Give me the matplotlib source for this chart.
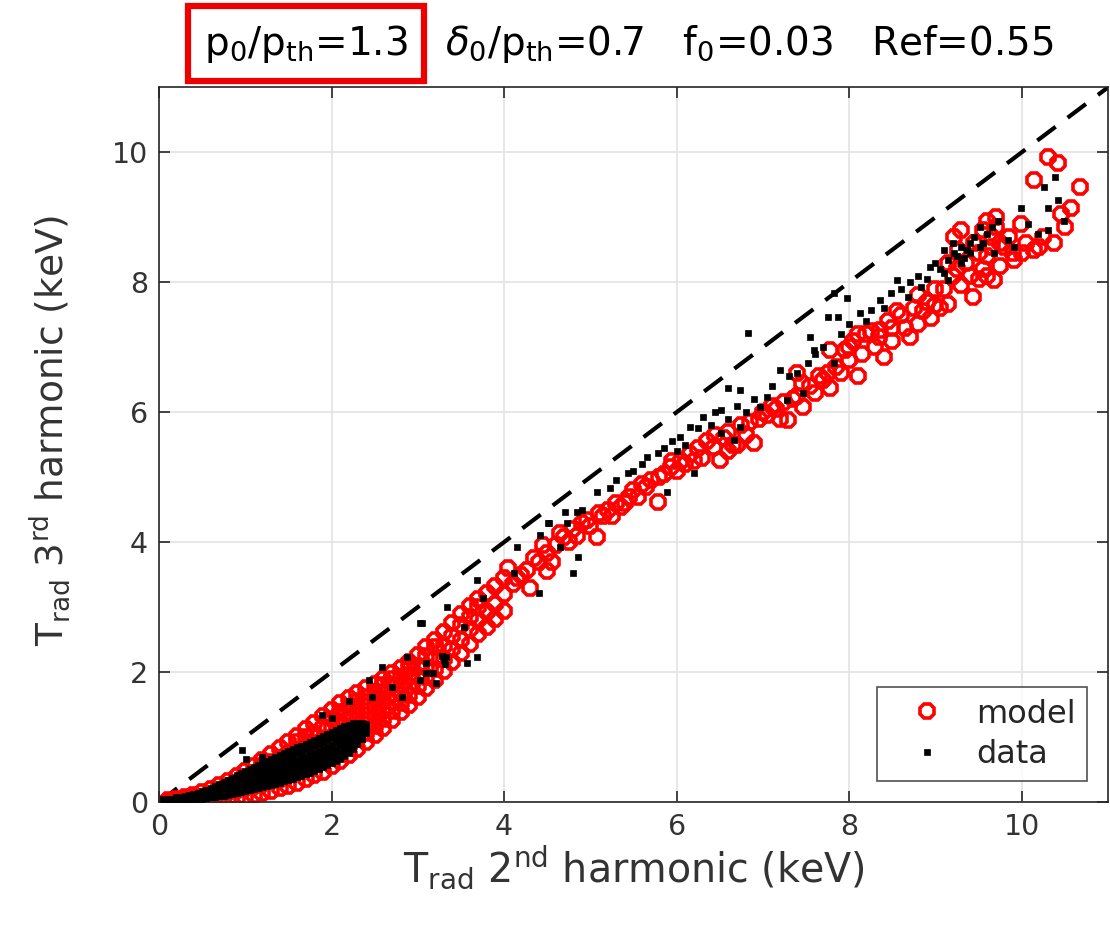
import matplotlib
matplotlib.use("Agg")
import matplotlib.pyplot as plt

# ---------------- data ----------------
# model: low dense region, columns of x with several y values
model_low_x = [0.10, 0.20, 0.30, 0.40, 0.50, 0.60, 0.70, 0.80, 0.90, 1.00, 1.10, 1.20, 1.30, 1.40,
               1.50, 1.60, 1.70, 1.80, 1.90, 2.00, 2.10, 2.20, 2.30, 2.40, 2.50, 2.60, 2.70, 2.80,
               2.90, 3.00, 3.10, 3.20, 3.30, 3.40, 3.50, 3.60, 3.70, 3.80, 3.90, 4.00]
model_low_y = [
    [0.00, 0.03], [0.00, 0.05], [0.00, 0.04, 0.08], [0.01, 0.06, 0.11], [0.01, 0.08, 0.15],
    [0.02, 0.10, 0.20], [0.03, 0.14, 0.26], [0.04, 0.15, 0.25, 0.33], [0.06, 0.18, 0.30, 0.40],
    [0.08, 0.21, 0.34, 0.48], [0.11, 0.25, 0.40, 0.56], [0.14, 0.28, 0.43, 0.55, 0.65],
    [0.17, 0.32, 0.47, 0.61, 0.74], [0.21, 0.36, 0.52, 0.68, 0.83], [0.25, 0.41, 0.58, 0.75, 0.93],
    [0.30, 0.46, 0.63, 0.80, 0.92, 1.02], [0.35, 0.51, 0.68, 0.86, 1.00, 1.12],
    [0.41, 0.57, 0.74, 0.90, 1.06, 1.22], [0.47, 0.63, 0.80, 0.97, 1.15, 1.32],
    [0.55, 0.70, 0.85, 1.00, 1.14, 1.28, 1.42], [0.63, 0.78, 0.93, 1.08, 1.23, 1.38, 1.52],
    [0.72, 0.87, 1.02, 1.16, 1.31, 1.46, 1.60], [0.82, 0.97, 1.12, 1.26, 1.40, 1.55, 1.68],
    [0.92, 1.06, 1.20, 1.34, 1.48, 1.62, 1.75], [1.03, 1.17, 1.31, 1.45, 1.58, 1.70, 1.82],
    [1.14, 1.28, 1.42, 1.55, 1.68, 1.80, 1.90], [1.26, 1.40, 1.54, 1.67, 1.80, 1.90, 1.98],
    [1.38, 1.52, 1.66, 1.80, 1.93, 2.06], [1.50, 1.64, 1.78, 1.92, 2.04, 2.16],
    [1.62, 1.78, 1.94, 2.10, 2.26], [1.75, 1.92, 2.08, 2.24, 2.38], [1.88, 2.05, 2.22, 2.38, 2.50],
    [2.02, 2.20, 2.40, 2.62], [2.16, 2.36, 2.56, 2.76], [2.30, 2.50, 2.72, 2.90],
    [2.44, 2.66, 2.85, 3.02], [2.58, 2.80, 3.00, 3.12], [2.70, 2.92, 3.22], [2.82, 3.05, 3.32],
    [2.94, 3.20, 3.45]]

# model: upper scattered points
model_hi_x = [4.05, 4.10, 4.15, 4.20, 4.27, 4.30, 4.35, 4.40, 4.45, 4.50, 4.50, 4.55, 4.60, 4.65,
              4.69, 4.75, 4.80, 4.85, 4.90, 4.96, 5.00, 5.08, 5.10, 5.15, 5.20, 5.25, 5.30, 5.35,
              5.40, 5.45, 5.50, 5.55, 5.60, 5.65, 5.70, 5.78, 5.80, 5.85, 5.93, 5.95, 6.00, 6.05,
              6.10, 6.15, 6.20, 6.25, 6.30, 6.35, 6.43, 6.45, 6.50, 6.55, 6.60, 6.60, 6.65, 6.70,
              6.75, 6.80, 6.85, 6.90, 6.95, 7.00, 7.05, 7.10, 7.15, 7.20, 7.25, 7.29, 7.35, 7.40,
              7.40, 7.45, 7.47, 7.55, 7.60, 7.65, 7.70, 7.75, 7.78, 7.78, 7.85, 7.90, 7.95, 8.00,
              8.00, 8.05, 8.10, 8.10, 8.15, 8.20, 8.25, 8.30, 8.35, 8.36, 8.40, 8.45, 8.50, 8.50,
              8.55, 8.60, 8.65, 8.71, 8.75, 8.80, 8.80, 8.85, 8.90, 8.95, 9.00, 9.00, 9.05, 9.10,
              9.14, 9.15, 9.20, 9.21, 9.25, 9.26, 9.30, 9.30, 9.35, 9.40, 9.44, 9.45, 9.50, 9.50,
              9.55, 9.55, 9.60, 9.60, 9.60, 9.65, 9.65, 9.68, 9.70, 9.70, 9.75, 9.75, 9.80, 9.85,
              9.90, 9.91, 9.99, 10.00, 10.05, 10.14, 10.14, 10.20, 10.25, 10.30, 10.42, 10.37,
              10.57, 10.68, 10.50, 10.45]
model_hi_y = [3.60, 3.35, 3.45, 3.50, 3.57, 3.30, 3.75, 3.70, 3.95, 3.83, 3.55, 3.70, 3.95, 4.14,
              4.08, 4.00, 4.20, 4.10, 4.30, 4.34, 4.25, 4.08, 4.45, 4.40, 4.50, 4.40, 4.60, 4.54,
              4.60, 4.70, 4.80, 4.70, 4.90, 4.85, 4.95, 4.62, 5.00, 5.05, 5.15, 5.25, 5.10, 5.25,
              5.20, 5.35, 5.25, 5.45, 5.30, 5.55, 5.46, 5.65, 5.26, 5.60, 5.40, 5.70, 5.50, 5.50,
              5.80, 5.65, 5.85, 5.52, 5.90, 6.00, 5.95, 6.10, 6.05, 5.90, 6.15, 5.88, 6.20, 6.60,
              6.25, 6.45, 6.08, 6.40, 6.30, 6.55, 6.50, 6.60, 6.38, 6.95, 6.70, 6.60, 6.95, 6.80,
              7.00, 7.10, 6.55, 7.20, 6.90, 7.20, 7.25, 7.00, 7.15, 7.26, 6.85, 7.40, 7.10, 7.30,
              7.55, 7.50, 7.30, 7.15, 7.60, 7.35, 7.80, 7.55, 7.70, 7.45, 7.90, 7.65, 7.60, 7.90,
              7.67, 8.30, 8.10, 8.69, 8.20, 8.50, 7.95, 8.80, 8.30, 8.10, 7.77, 8.60, 8.05, 8.45,
              8.80, 8.20, 8.95, 8.40, 8.10, 8.70, 8.55, 8.03, 8.85, 9.00, 8.25, 8.60, 8.55, 8.70,
              8.45, 8.34, 8.90, 8.45, 8.60, 9.57, 8.50, 8.55, 8.70, 9.92, 9.83, 8.60,
              9.15, 9.46, 8.85, 9.05]

# data: low dense band, columns
data_low_x = [0.10, 0.15, 0.20, 0.25, 0.30, 0.35, 0.40, 0.45, 0.50, 0.55, 0.60, 0.65, 0.70, 0.75,
              0.80, 0.85, 0.90, 0.95, 1.00, 1.05, 1.10, 1.15, 1.20, 1.25, 1.30, 1.35, 1.40, 1.45,
              1.50, 1.55, 1.60, 1.65, 1.70, 1.75, 1.80, 1.85, 1.90, 1.95, 2.00, 2.05, 2.10, 2.15,
              2.20, 2.25, 2.30, 2.35, 2.40]
data_low_y = [
    [0.00, 0.04], [0.01, 0.05], [0.01, 0.07], [0.02, 0.08], [0.02, 0.09], [0.03, 0.11],
    [0.03, 0.12], [0.04, 0.14], [0.05, 0.11, 0.17], [0.06, 0.12, 0.19], [0.07, 0.14, 0.22],
    [0.08, 0.16, 0.25], [0.09, 0.18, 0.28], [0.10, 0.20, 0.31], [0.11, 0.19, 0.27, 0.34],
    [0.13, 0.21, 0.29, 0.37], [0.14, 0.23, 0.32, 0.41], [0.16, 0.25, 0.35, 0.44],
    [0.17, 0.25, 0.33, 0.41, 0.48], [0.19, 0.27, 0.35, 0.43, 0.51], [0.20, 0.29, 0.38, 0.46, 0.54],
    [0.22, 0.31, 0.40, 0.49, 0.57], [0.23, 0.32, 0.41, 0.51, 0.60],
    [0.25, 0.33, 0.41, 0.49, 0.56, 0.63], [0.26, 0.34, 0.42, 0.50, 0.58, 0.66],
    [0.28, 0.36, 0.44, 0.53, 0.61, 0.69], [0.30, 0.38, 0.47, 0.55, 0.64, 0.72],
    [0.32, 0.40, 0.49, 0.58, 0.67, 0.75], [0.34, 0.43, 0.52, 0.61, 0.70, 0.78],
    [0.36, 0.45, 0.54, 0.63, 0.72, 0.81], [0.38, 0.47, 0.56, 0.65, 0.75, 0.84],
    [0.40, 0.49, 0.58, 0.68, 0.77, 0.87], [0.43, 0.52, 0.61, 0.70, 0.80, 0.90],
    [0.45, 0.54, 0.63, 0.73, 0.83, 0.93], [0.48, 0.57, 0.66, 0.76, 0.86, 0.96],
    [0.51, 0.60, 0.69, 0.79, 0.89, 0.99], [0.54, 0.63, 0.72, 0.82, 0.92, 1.02],
    [0.57, 0.66, 0.75, 0.85, 0.95, 1.05], [0.60, 0.69, 0.78, 0.88, 0.98, 1.08],
    [0.63, 0.72, 0.82, 0.92, 1.01, 1.11], [0.67, 0.76, 0.86, 0.95, 1.05, 1.14],
    [0.71, 0.80, 0.89, 0.98, 1.08, 1.17], [0.76, 0.85, 0.94, 1.02, 1.10, 1.19],
    [0.82, 0.91, 0.99, 1.07, 1.14, 1.21], [0.89, 0.98, 1.07, 1.15, 1.22],
    [0.97, 1.06, 1.14, 1.21], [1.06, 1.13, 1.20]]

# data: scattered points
data_hi_x = [0.05, 0.96, 1.01, 1.20, 1.89, 2.00, 2.20, 2.44, 2.47, 2.70, 2.82, 2.87, 3.02, 3.21,
             3.10, 3.33, 2.59, 3.03, 3.10, 3.05, 3.34, 3.69, 3.76, 3.53, 3.30, 3.28, 3.32, 3.18,
             3.57, 3.69, 4.11, 4.15, 4.40, 4.65, 4.73, 4.80, 4.86, 4.71, 4.85, 5.08, 4.51, 4.42,
             4.52, 4.90, 5.23, 5.44, 5.66, 5.78, 5.89, 6.20, 6.04, 6.16, 6.31, 6.51, 6.59, 6.74,
             6.51, 6.66, 6.74, 6.83, 6.97, 7.05, 7.20, 7.28, 7.47, 7.52, 7.55, 7.59, 7.75, 7.87,
             7.82, 7.82, 7.98, 8.13, 8.25, 8.36, 8.48, 8.56, 8.68, 8.83, 8.94, 9.10, 9.21, 9.33,
             9.37, 9.52, 9.72, 9.84, 9.91, 9.99, 10.07, 10.26, 10.30, 10.42, 10.49, 10.39, 10.30,
             10.19, 9.68, 9.52, 9.30, 9.14,
             5.30, 5.50, 5.60, 5.85, 5.95, 6.00, 6.10, 6.25, 6.40, 6.45, 6.60, 6.70, 6.80, 6.90,
             7.10, 7.30, 7.40, 7.60, 7.70, 7.90, 8.00, 8.20, 8.40, 8.60, 8.70, 8.80, 8.90, 9.00,
             9.05, 9.15, 9.25, 9.30, 9.40, 9.45, 9.55, 9.60, 9.65, 9.40, 9.20, 9.10]
data_hi_y = [0.05, 0.80, 0.67, 0.70, 1.34, 1.30, 1.55, 1.88, 1.62, 1.77, 1.62, 2.23, 1.88, 1.83,
             1.98, 2.23, 2.08, 2.75, 2.14, 2.75, 3.00, 3.42, 3.14, 2.70, 2.18, 2.25, 2.12, 1.98,
             2.14, 2.23, 3.52, 3.92, 3.22, 3.92, 4.29, 3.52, 3.77, 4.46, 4.46, 4.77, 4.29, 4.11,
             4.29, 4.49, 4.83, 5.06, 5.31, 5.37, 4.77, 5.06, 5.62, 5.77, 5.92, 6.03, 6.38, 6.34,
             5.68, 5.57, 5.77, 7.22, 6.08, 6.23, 6.65, 6.18, 6.29, 6.75, 7.15, 6.95, 7.46, 7.46,
             6.75, 7.83, 7.75, 7.52, 7.57, 7.72, 7.83, 8.03, 7.77, 7.92, 8.23, 8.14, 8.45, 8.38,
             8.49, 8.85, 8.95, 8.65, 8.54, 9.15, 8.90, 9.46, 9.15, 9.26, 8.95, 9.62, 8.80, 8.75,
             8.45, 8.54, 8.29, 8.03,
             4.95, 5.10, 5.20, 5.45, 5.55, 5.40, 5.50, 5.75, 5.80, 6.00, 5.90, 6.10, 6.00, 6.20,
             6.40, 6.55, 6.60, 6.90, 7.00, 7.20, 7.35, 7.40, 7.60, 7.90, 8.00, 8.10, 8.05, 8.30,
             8.20, 8.35, 8.40, 8.55, 8.60, 8.70, 8.60, 8.75, 8.85, 8.45, 8.60, 8.50]

ref_line = [0, 11]

# ---------------- assemble ----------------
mx = [x for x, ys in zip(model_low_x, model_low_y) for _ in ys] + model_hi_x
my = [y for ys in model_low_y for y in ys] + model_hi_y
dx = [x for x, ys in zip(data_low_x, data_low_y) for _ in ys] + data_hi_x
dy = [y for ys in data_low_y for y in ys] + data_hi_y

plt.rcParams['font.family'] = ['DejaVu Sans']
plt.rcParams['mathtext.fontset'] = 'dejavusans'

fig = plt.figure(figsize=(11.1, 9.27), dpi=100)
ax = fig.add_axes([0.1432, 0.1348, 0.855, 0.771])

axcol = '#262626'
txtcol = '#333333'
ax.plot(ref_line, ref_line, color='black', lw=3, dashes=(5.5, 3.6), zorder=1)
ax.plot(mx, my, linestyle='none', marker='8', markersize=11.5, markerfacecolor='none',
        markeredgecolor='#ff0000', markeredgewidth=2.6, label='model', zorder=2)
ax.plot(dx, dy, linestyle='none', marker='s', markersize=5.0, markerfacecolor='black',
        markeredgecolor='black', markeredgewidth=0.5, label='data', zorder=3)

ax.set_xlim(0, 11)
ax.set_ylim(0, 11)
ax.set_xticks([0, 2, 4, 6, 8, 10])
ax.set_yticks([0, 2, 4, 6, 8, 10])
ax.grid(True, color='#e3e3e3', lw=1.2)
ax.set_axisbelow(True)
ax.tick_params(direction='in', length=8, width=1.2, colors=axcol, labelsize=20.5,
               top=True, right=True, labelcolor=txtcol, pad=8)
for s in ax.spines.values():
    s.set_color(axcol)
    s.set_linewidth(1.2)

ax.set_xlabel(r'T$_{\rm rad}$ 2$^{\rm nd}$ harmonic (keV)', fontsize=28.5, color=txtcol, labelpad=2)
ax.set_ylabel(r'T$_{\rm rad}$ 3$^{\rm rd}$ harmonic (keV)', fontsize=27, color=txtcol)
ax.yaxis.set_label_coords(-0.092, 0.52)

leg = ax.legend(loc='lower right', fontsize=23, frameon=True, fancybox=False,
                edgecolor=axcol, handlelength=2.4, handletextpad=0.35,
                borderpad=0.35, labelspacing=0.3, borderaxespad=0.65)
leg.get_frame().set_linewidth(1.2)
for t in leg.get_texts():
    t.set_color(axcol)

fig.text(0.184, 0.953, r'p$_0$/p$_{\rm th}$=1.3', fontsize=28, ha='left', va='center',
         color='black',
         bbox=dict(boxstyle='square,pad=0.42', facecolor='none', edgecolor='#ee0000', lw=4.5))
fig.text(0.401, 0.953, r'$\delta_0$/p$_{\rm th}$=0.7   f$_0$=0.03   Ref=0.55', fontsize=28,
         ha='left', va='center', color='black')

fig.savefig('out.png', dpi=100)
